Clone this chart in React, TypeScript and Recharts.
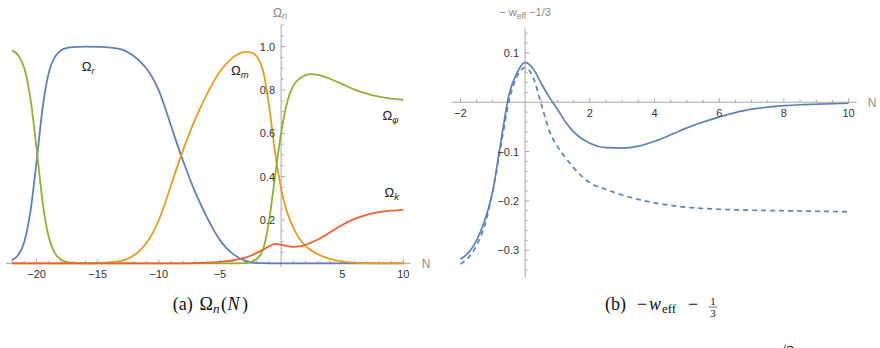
import React from 'react';
import { LineChart, Line, XAxis, YAxis, ReferenceLine, ReferenceDot } from 'recharts';

// ---------- colours ----------
const BLUE = '#5E81B5';
const ORANGE = '#E19C24';
const GREEN = '#8FB032';
const RED = '#EB6235';
const AXIS = '#a6a6a6';
const TICKTXT = '#333333';
const AXLABEL = '#8a8a8a';

// ---------- panel (a) data : Omega_n(N) ----------
const omegaR = [
  { N: -22, v: 0.015 }, { N: -21.5, v: 0.038 }, { N: -21, v: 0.1 }, { N: -20.5, v: 0.24 },
  { N: -20, v: 0.47 }, { N: -19.5, v: 0.72 }, { N: -19, v: 0.88 }, { N: -18.5, v: 0.953 },
  { N: -18, v: 0.983 }, { N: -17.5, v: 0.994 }, { N: -17, v: 0.998 }, { N: -16, v: 1.0 },
  { N: -15, v: 0.999 }, { N: -14, v: 0.996 }, { N: -13, v: 0.986 }, { N: -12.5, v: 0.973 },
  { N: -12, v: 0.955 }, { N: -11.5, v: 0.93 }, { N: -11, v: 0.898 }, { N: -10.5, v: 0.855 },
  { N: -10, v: 0.797 }, { N: -9.5, v: 0.72 }, { N: -9, v: 0.635 }, { N: -8.5, v: 0.55 },
  { N: -8, v: 0.47 }, { N: -7.5, v: 0.395 }, { N: -7, v: 0.325 }, { N: -6.5, v: 0.263 },
  { N: -6, v: 0.205 }, { N: -5.5, v: 0.152 }, { N: -5, v: 0.107 }, { N: -4.5, v: 0.072 },
  { N: -4, v: 0.046 }, { N: -3.5, v: 0.027 }, { N: -3, v: 0.014 }, { N: -2.5, v: 0.006 },
  { N: -2, v: 0.002 }, { N: -1.5, v: 0.0005 }, { N: -1, v: 0 }, { N: 10, v: 0 },
];

const omegaM = [
  { N: -22, v: 0 }, { N: -16, v: 0 }, { N: -15, v: 0.001 }, { N: -14, v: 0.004 },
  { N: -13, v: 0.012 }, { N: -12.5, v: 0.022 }, { N: -12, v: 0.038 }, { N: -11.5, v: 0.062 },
  { N: -11, v: 0.095 }, { N: -10.5, v: 0.14 }, { N: -10, v: 0.2 }, { N: -9.5, v: 0.275 },
  { N: -9, v: 0.36 }, { N: -8.5, v: 0.445 }, { N: -8, v: 0.525 }, { N: -7.5, v: 0.6 },
  { N: -7, v: 0.668 }, { N: -6.5, v: 0.73 }, { N: -6, v: 0.788 }, { N: -5.5, v: 0.84 },
  { N: -5, v: 0.885 }, { N: -4.5, v: 0.92 }, { N: -4, v: 0.947 }, { N: -3.5, v: 0.966 },
  { N: -3, v: 0.976 }, { N: -2.5, v: 0.974 }, { N: -2, v: 0.955 }, { N: -1.5, v: 0.895 },
  { N: -1, v: 0.735 }, { N: -0.5, v: 0.515 }, { N: 0, v: 0.345 }, { N: 0.5, v: 0.235 },
  { N: 1, v: 0.165 }, { N: 1.5, v: 0.115 }, { N: 2, v: 0.08 }, { N: 2.5, v: 0.058 },
  { N: 3, v: 0.042 }, { N: 4, v: 0.02 }, { N: 5, v: 0.008 }, { N: 6, v: 0.003 },
  { N: 7, v: 0.001 }, { N: 8, v: 0 }, { N: 10, v: 0 },
];

const omegaPhi = [
  { N: -22, v: 0.983 }, { N: -21.5, v: 0.96 }, { N: -21, v: 0.9 }, { N: -20.5, v: 0.76 },
  { N: -20, v: 0.53 }, { N: -19.5, v: 0.28 }, { N: -19, v: 0.12 }, { N: -18.5, v: 0.047 },
  { N: -18, v: 0.017 }, { N: -17.5, v: 0.006 }, { N: -17, v: 0.002 }, { N: -16, v: 0 },
  { N: -4, v: 0 }, { N: -3, v: 0.001 }, { N: -2.5, v: 0.006 }, { N: -2, v: 0.02 },
  { N: -1.5, v: 0.06 }, { N: -1, v: 0.19 }, { N: -0.5, v: 0.4 }, { N: 0, v: 0.6 },
  { N: 0.5, v: 0.745 }, { N: 1, v: 0.82 }, { N: 1.5, v: 0.852 }, { N: 2, v: 0.868 },
  { N: 2.5, v: 0.873 }, { N: 3, v: 0.87 }, { N: 3.5, v: 0.862 }, { N: 4, v: 0.852 },
  { N: 5, v: 0.827 }, { N: 6, v: 0.802 }, { N: 7, v: 0.783 }, { N: 8, v: 0.769 },
  { N: 9, v: 0.76 }, { N: 10, v: 0.755 },
];

const omegaK = [
  { N: -22, v: 0 }, { N: -8, v: 0 }, { N: -7, v: 0.001 }, { N: -6, v: 0.003 },
  { N: -5, v: 0.007 }, { N: -4, v: 0.013 }, { N: -3, v: 0.025 }, { N: -2.5, v: 0.035 },
  { N: -2, v: 0.048 }, { N: -1.5, v: 0.062 }, { N: -1, v: 0.078 }, { N: -0.5, v: 0.09 },
  { N: 0, v: 0.086 }, { N: 0.5, v: 0.079 }, { N: 1, v: 0.076 }, { N: 1.5, v: 0.078 },
  { N: 2, v: 0.085 }, { N: 2.5, v: 0.097 }, { N: 3, v: 0.11 }, { N: 3.5, v: 0.125 },
  { N: 4, v: 0.143 }, { N: 5, v: 0.177 }, { N: 6, v: 0.205 }, { N: 7, v: 0.224 },
  { N: 8, v: 0.236 }, { N: 9, v: 0.243 }, { N: 10, v: 0.247 },
];

const leftXTickLabels = ['−20', '−15', '−10', '−5', '5', '10'];
const leftXTickValues = [-20, -15, -10, -5, 5, 10];
const leftYTickLabels = ['0.2', '0.4', '0.6', '0.8', '1.0'];
const leftYTickValues = [0.2, 0.4, 0.6, 0.8, 1.0];

// series labels (annotation anchor points, data coords)
const leftSeriesLabels = [
  { N: -16.3, v: 0.887, sub: 'r' },
  { N: -4.1, v: 0.869, sub: 'm' },
  { N: 8.3, v: 0.661, sub: 'φ' },
  { N: 8.45, v: 0.306, sub: 'k' },
];

// ---------- panel (b) data : -w_eff - 1/3 ----------
const weffSolid = [
  { N: -2, v: -0.318 }, { N: -1.75, v: -0.305 }, { N: -1.5, v: -0.28 }, { N: -1.25, v: -0.24 },
  { N: -1, v: -0.18 }, { N: -0.75, v: -0.08 }, { N: -0.5, v: 0.015 }, { N: -0.25, v: 0.06 },
  { N: 0, v: 0.081 }, { N: 0.25, v: 0.068 }, { N: 0.5, v: 0.038 }, { N: 0.75, v: 0.01 },
  { N: 1, v: -0.014 }, { N: 1.25, v: -0.04 }, { N: 1.5, v: -0.06 }, { N: 2, v: -0.083 },
  { N: 2.5, v: -0.092 }, { N: 3, v: -0.093 }, { N: 3.5, v: -0.089 }, { N: 4, v: -0.079 },
  { N: 4.5, v: -0.066 }, { N: 5, v: -0.052 }, { N: 5.5, v: -0.04 }, { N: 6, v: -0.03 },
  { N: 6.5, v: -0.021 }, { N: 7, v: -0.014 }, { N: 7.5, v: -0.01 }, { N: 8, v: -0.007 },
  { N: 8.5, v: -0.005 }, { N: 9, v: -0.004 }, { N: 9.5, v: -0.003 }, { N: 10, v: -0.002 },
];

const weffDashed = [
  { N: -2, v: -0.328 }, { N: -1.75, v: -0.315 }, { N: -1.5, v: -0.29 }, { N: -1.25, v: -0.25 },
  { N: -1, v: -0.18 }, { N: -0.75, v: -0.089 }, { N: -0.5, v: 0.002 }, { N: -0.25, v: 0.053 },
  { N: 0, v: 0.07 }, { N: 0.25, v: 0.05 }, { N: 0.5, v: -0.004 }, { N: 0.75, v: -0.058 },
  { N: 1, v: -0.09 }, { N: 1.25, v: -0.112 }, { N: 1.5, v: -0.133 }, { N: 2, v: -0.163 },
  { N: 2.5, v: -0.177 }, { N: 3, v: -0.188 }, { N: 3.5, v: -0.197 }, { N: 4, v: -0.204 },
  { N: 4.5, v: -0.209 }, { N: 5, v: -0.213 }, { N: 6, v: -0.217 }, { N: 7, v: -0.219 },
  { N: 8, v: -0.22 }, { N: 9, v: -0.221 }, { N: 10, v: -0.222 },
];

const rightXTickLabels = ['−2', '2', '4', '6', '8', '10'];
const rightXTickValues = [-2, 2, 4, 6, 8, 10];
const rightYTickLabels = ['−0.3', '−0.2', '−0.1', '0.1'];
const rightYTickValues = [-0.3, -0.2, -0.1, 0.1];

// ---------- layout ----------
const W = 440;
const H = 300;
const L_DOM_X: [number, number] = [-22.5, 10.6];
const L_DOM_Y: [number, number] = [-0.017, 1.1];
const L_MARGIN = { top: 25, left: 6, right: 29.3, bottom: 33 };
const R_DOM_X: [number, number] = [-2.27, 10.25];
const R_DOM_Y: [number, number] = [-0.355, 0.15];
const R_MARGIN = { top: 28.3, left: 11.7, right: 23.3, bottom: 22.7 };

const FONT = '"Liberation Sans", Arial, sans-serif';
const SERIF = '"Liberation Serif", "DejaVu Serif", serif';

// label renderer: the library passes the dot's viewBox; draw around its centre
const at = (draw: (x: number, y: number) => React.ReactNode) => (props: any) => {
  const vb = props.viewBox || {};
  const x = (vb.x ?? 0) + (vb.width ?? 0) / 2;
  const y = (vb.y ?? 0) + (vb.height ?? 0) / 2;
  return <g>{draw(x, y)}</g>;
};

const range = (a: number, b: number, s: number) => {
  const out: number[] = [];
  for (let i = 0; a + i * s <= b + 1e-9; i++) out.push(Math.round((a + i * s) * 1000) / 1000);
  return out;
};

function pxPerUnit(dom: [number, number], size: number) {
  return size / (dom[1] - dom[0]);
}

function axisDecor(opts: {
  domX: [number, number];
  domY: [number, number];
  margin: { top: number; left: number; right: number; bottom: number };
  xMinor: number[];
  xMajorEvery: number;
  yMinor: number[];
  yMajorEvery: number;
  xVals: number[];
  xLabs: string[];
  yVals: number[];
  yLabs: string[];
}) {
  const { domX, domY, margin, xMinor, xMajorEvery, yMinor, yMajorEvery, xVals, xLabs, yVals, yLabs } = opts;
  const kx = pxPerUnit(domX, W - margin.left - margin.right);
  const ky = pxPerUnit(domY, H - margin.top - margin.bottom);
  const isMajor = (t: number, every: number) => Math.abs(t / every - Math.round(t / every)) < 1e-6;
  const els: React.ReactNode[] = [];
  els.push(<ReferenceLine key="xaxis" y={0} stroke={AXIS} strokeWidth={1} ifOverflow="visible" />);
  els.push(<ReferenceLine key="yaxis" x={0} stroke={AXIS} strokeWidth={1} ifOverflow="visible" />);
  xMinor.forEach((t) => {
    if (Math.abs(t) < 1e-9) return;
    const len = (isMajor(t, xMajorEvery) ? 4 : 2.5) / ky;
    els.push(
      <ReferenceLine key={'xt' + t} segment={[{ x: t, y: 0 }, { x: t, y: len }]} stroke={AXIS} strokeWidth={1} ifOverflow="visible" />
    );
  });
  yMinor.forEach((t) => {
    if (Math.abs(t) < 1e-9) return;
    const len = (isMajor(t, yMajorEvery) ? 4 : 2.5) / kx;
    els.push(
      <ReferenceLine key={'yt' + t} segment={[{ x: 0, y: t }, { x: len, y: t }]} stroke={AXIS} strokeWidth={1} ifOverflow="visible" />
    );
  });
  xVals.forEach((t, i) => {
    els.push(
      <ReferenceDot
        key={'xl' + t}
        x={t}
        y={0}
        r={0}
        fill="none"
        stroke="none"
        ifOverflow="visible"
        label={at((x, y) => (
          <text x={x} y={y + 14.6} textAnchor="middle" fontFamily={FONT} fontSize={11} fill={TICKTXT}>
            {xLabs[i]}
          </text>
        ))}
      />
    );
  });
  yVals.forEach((t, i) => {
    els.push(
      <ReferenceDot
        key={'yl' + t}
        x={0}
        y={t}
        r={0}
        fill="none"
        stroke="none"
        ifOverflow="visible"
        label={at((x, y) => (
          <text x={x - 6} y={y + 4} textAnchor="end" fontFamily={FONT} fontSize={11} fill={TICKTXT}>
            {yLabs[i]}
          </text>
        ))}
      />
    );
  });
  // "N" at the end of the x axis
  els.push(
    <ReferenceDot
      key="Nlab"
      x={domX[1]}
      y={0}
      r={0}
      fill="none"
      stroke="none"
      ifOverflow="visible"
      label={at((x, y) => (
        <text x={x + 11} y={y + 4.5} fontFamily={FONT} fontSize={12} fill={AXLABEL}>
          N
        </text>
      ))}
    />
  );
  return els;
}

function LeftPanel() {
  return (
    <LineChart width={W} height={H} margin={L_MARGIN}>
      <XAxis type="number" dataKey="N" domain={L_DOM_X} hide allowDataOverflow />
      <YAxis type="number" dataKey="v" domain={L_DOM_Y} hide allowDataOverflow />
      {axisDecor({
        domX: L_DOM_X,
        domY: L_DOM_Y,
        margin: L_MARGIN,
        xMinor: range(-22, 10, 1),
        xMajorEvery: 5,
        yMinor: range(0.05, 1.1, 0.05),
        yMajorEvery: 0.2,
        xVals: leftXTickValues,
        xLabs: leftXTickLabels,
        yVals: leftYTickValues,
        yLabs: leftYTickLabels,
      })}
      <ReferenceDot
        x={0}
        y={L_DOM_Y[1]}
        r={0}
        fill="none"
        stroke="none"
        ifOverflow="visible"
        label={at((x, y) => (
          <text x={x - 8} y={y - 8} fontFamily={FONT} fontSize={12} fill={AXLABEL}>
            Ω<tspan fontStyle="italic" fontSize={9} dy={2}>n</tspan>
          </text>
        ))}
      />
      <Line data={omegaR} dataKey="v" type="monotone" stroke={BLUE} strokeWidth={1.8} dot={false} isAnimationActive={false} />
      <Line data={omegaM} dataKey="v" type="monotone" stroke={ORANGE} strokeWidth={1.8} dot={false} isAnimationActive={false} />
      <Line data={omegaPhi} dataKey="v" type="monotone" stroke={GREEN} strokeWidth={1.8} dot={false} isAnimationActive={false} />
      <Line data={omegaK} dataKey="v" type="monotone" stroke={RED} strokeWidth={1.8} dot={false} isAnimationActive={false} />
      {leftSeriesLabels.map((s) => (
        <ReferenceDot
          key={'sl' + s.sub}
          x={s.N}
          y={s.v}
          r={0}
          fill="none"
          stroke="none"
          ifOverflow="visible"
          label={at((x, y) => (
            <text x={x} y={y} fontFamily={FONT} fontSize={13} fill="#222">
              Ω<tspan fontStyle="italic" fontSize={9.5} dy={3}>{s.sub}</tspan>
            </text>
          ))}
        />
      ))}
    </LineChart>
  );
}

function RightPanel() {
  return (
    <LineChart width={W} height={H} margin={R_MARGIN}>
      <XAxis type="number" dataKey="N" domain={R_DOM_X} hide allowDataOverflow />
      <YAxis type="number" dataKey="v" domain={R_DOM_Y} hide allowDataOverflow />
      {axisDecor({
        domX: R_DOM_X,
        domY: R_DOM_Y,
        margin: R_MARGIN,
        xMinor: range(-2, 10, 0.5),
        xMajorEvery: 2,
        yMinor: range(-0.34, 0.14, 0.02),
        yMajorEvery: 0.1,
        xVals: rightXTickValues,
        xLabs: rightXTickLabels,
        yVals: rightYTickValues,
        yLabs: rightYTickLabels,
      })}
      <ReferenceDot
        x={0}
        y={R_DOM_Y[1]}
        r={0}
        fill="none"
        stroke="none"
        ifOverflow="visible"
        label={at((x, y) => (
          <text x={x} y={y - 12} textAnchor="middle" fontFamily={FONT} fontSize={11} fill={AXLABEL}>
            {'\u2212 w'}
            <tspan fontSize={8.5} dy={3}>eff</tspan>
            <tspan dy={-3}>{' \u22121/3'}</tspan>
          </text>
        ))}
      />
      <Line data={weffDashed} dataKey="v" type="monotone" stroke={BLUE} strokeWidth={1.7} strokeDasharray="5 4" dot={false} isAnimationActive={false} />
      <Line data={weffSolid} dataKey="v" type="monotone" stroke={BLUE} strokeWidth={1.7} dot={false} isAnimationActive={false} />
    </LineChart>
  );
}

export default function App() {
  return (
    <div style={{ position: 'absolute', left: 0, top: 0, width: 880, height: 348, background: '#fff', overflow: 'hidden' }}>
      <div style={{ position: 'absolute', left: 0, top: 0 }}>
        <LeftPanel />
      </div>
      <div style={{ position: 'absolute', left: 440, top: 0 }}>
        <RightPanel />
      </div>
      <svg width={880} height={348} style={{ position: 'absolute', left: 0, top: 0, pointerEvents: 'none' }}>
        <g fontFamily={SERIF} fontSize={18} fill="#111">
          <text x={172.7} y={310}>(a)</text>
          <text x={199.5} y={310}>Ω</text>
          <text x={213} y={313} fontSize={13} fontStyle="italic">n</text>
          <text x={221} y={310}>(</text>
          <text x={227.5} y={310} fontStyle="italic">N</text>
          <text x={242} y={310}>)</text>

          <text x={605} y={310}>(b)</text>
          <text x={637} y={310}>{'\u2212'}</text>
          <text x={649} y={310} fontStyle="italic">w</text>
          <text x={662} y={313} fontSize={13}>eff</text>
          <text x={688} y={310}>{'\u2212'}</text>
          <text x={713} y={305} textAnchor="middle" fontSize={11}>1</text>
          <line x1={708.5} x2={717.5} y1={307} y2={307} stroke="#111" strokeWidth={0.6} />
          <text x={713} y={316.5} textAnchor="middle" fontSize={11}>3</text>

          <text x={776} y={359}>√2</text>
        </g>
      </svg>
    </div>
  );
}
